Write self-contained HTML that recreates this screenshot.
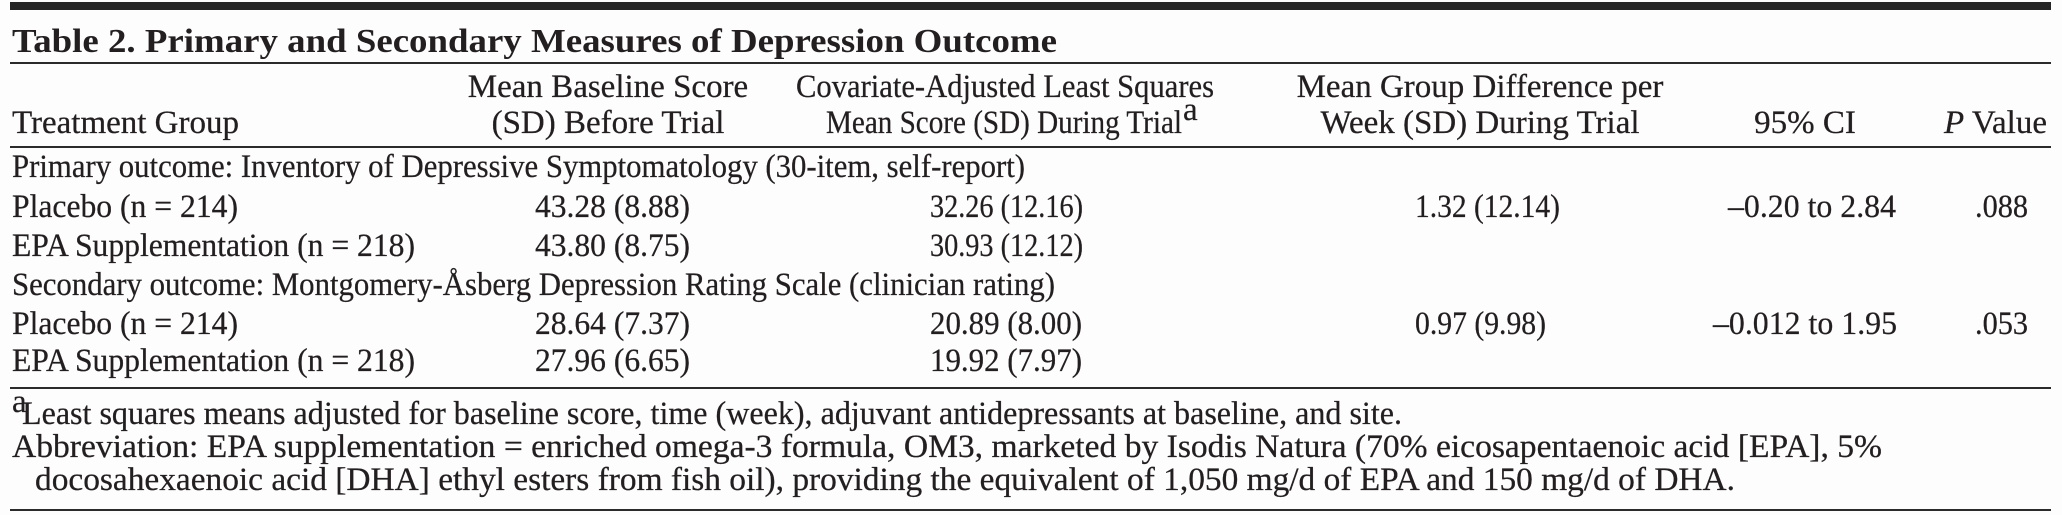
<!DOCTYPE html>
<html>
<head>
<meta charset="utf-8">
<style>
  html, body { margin: 0; padding: 0; background: #fdfdfd; }
  svg { display: block; }
  text { font-family: "Liberation Serif", "Times New Roman", serif; fill: #231f20; font-size: 33px; stroke: #231f20; stroke-width: 0.25; }
  .t { font-weight: bold; font-size: 34px; stroke-width: 0; }
  .fn { font-size: 32.5px; }
</style>
</head>
<body>
<svg width="2062" height="515" viewBox="0 0 2062 515" xmlns="http://www.w3.org/2000/svg">
  <rect x="0" y="0" width="2062" height="515" fill="#fdfdfd"/>

  <!-- top thick bar -->
  <rect x="10" y="2" width="2041" height="8" fill="#262626"/>

  <!-- title -->
  <text class="t" x="12" y="52" textLength="1045" lengthAdjust="spacingAndGlyphs">Table 2. Primary and Secondary Measures of Depression Outcome</text>
  <rect x="10" y="62" width="2041" height="2" fill="#2b2b2b"/>

  <!-- header -->
  <text x="12" y="133">Treatment Group</text>

  <text x="608" y="97" text-anchor="middle">Mean Baseline Score</text>
  <text x="608" y="133" text-anchor="middle">(SD) Before Trial</text>

  <text x="796" y="97" textLength="418" lengthAdjust="spacingAndGlyphs">Covariate-Adjusted Least Squares</text>
  <text x="826" y="133" textLength="356" lengthAdjust="spacingAndGlyphs">Mean Score (SD) During Trial</text>
  <text x="1183" y="120" font-size="17" stroke-width="0">a</text>

  <text x="1480" y="97" text-anchor="middle">Mean Group Difference per</text>
  <text x="1480" y="133" text-anchor="middle">Week (SD) During Trial</text>

  <text x="1805" y="133" text-anchor="middle">95% CI</text>

  <text x="2047" y="133" text-anchor="end"><tspan font-style="italic">P</tspan> Value</text>

  <rect x="10" y="146" width="2041" height="2" fill="#2b2b2b"/>

  <!-- primary outcome -->
  <text x="12" y="177" textLength="1013" lengthAdjust="spacingAndGlyphs">Primary outcome: Inventory of Depressive Symptomatology (30-item, self-report)</text>

  <text x="12" y="217" textLength="226" lengthAdjust="spacingAndGlyphs">Placebo (n = 214)</text>
  <text x="535" y="217" textLength="155" lengthAdjust="spacingAndGlyphs">43.28 (8.88)</text>
  <text x="930" y="217" textLength="153" lengthAdjust="spacingAndGlyphs">32.26 (12.16)</text>
  <text x="1415" y="217" textLength="145" lengthAdjust="spacingAndGlyphs">1.32 (12.14)</text>
  <text x="1728" y="217" textLength="168" lengthAdjust="spacingAndGlyphs">–0.20 to 2.84</text>
  <text x="1975" y="217" textLength="53" lengthAdjust="spacingAndGlyphs">.088</text>

  <text x="12" y="256" textLength="403" lengthAdjust="spacingAndGlyphs">EPA Supplementation (n = 218)</text>
  <text x="535" y="256" textLength="155" lengthAdjust="spacingAndGlyphs">43.80 (8.75)</text>
  <text x="930" y="256" textLength="153" lengthAdjust="spacingAndGlyphs">30.93 (12.12)</text>

  <!-- secondary outcome -->
  <text x="12" y="295" textLength="1043" lengthAdjust="spacingAndGlyphs">Secondary outcome: Montgomery-Åsberg Depression Rating Scale (clinician rating)</text>

  <text x="12" y="334" textLength="226" lengthAdjust="spacingAndGlyphs">Placebo (n = 214)</text>
  <text x="535" y="334" textLength="155" lengthAdjust="spacingAndGlyphs">28.64 (7.37)</text>
  <text x="930" y="334" textLength="152" lengthAdjust="spacingAndGlyphs">20.89 (8.00)</text>
  <text x="1415" y="334" textLength="131" lengthAdjust="spacingAndGlyphs">0.97 (9.98)</text>
  <text x="1713" y="334" textLength="184" lengthAdjust="spacingAndGlyphs">–0.012 to 1.95</text>
  <text x="1975" y="334" textLength="53" lengthAdjust="spacingAndGlyphs">.053</text>

  <text x="12" y="371" textLength="403" lengthAdjust="spacingAndGlyphs">EPA Supplementation (n = 218)</text>
  <text x="535" y="371" textLength="155" lengthAdjust="spacingAndGlyphs">27.96 (6.65)</text>
  <text x="930" y="371" textLength="152" lengthAdjust="spacingAndGlyphs">19.92 (7.97)</text>

  <rect x="10" y="387" width="2041" height="2" fill="#2b2b2b"/>

  <!-- footnotes -->
  <text x="12" y="412" font-size="18" stroke-width="0">a</text>
  <text class="fn" x="22" y="424" textLength="1380" lengthAdjust="spacingAndGlyphs">Least squares means adjusted for baseline score, time (week), adjuvant antidepressants at baseline, and site.</text>
  <text class="fn" x="12" y="457" textLength="1870" lengthAdjust="spacingAndGlyphs">Abbreviation: EPA supplementation = enriched omega-3 formula, OM3, marketed by Isodis Natura (70% eicosapentaenoic acid [EPA], 5%</text>
  <text class="fn" x="35" y="490" textLength="1700" lengthAdjust="spacingAndGlyphs">docosahexaenoic acid [DHA] ethyl esters from fish oil), providing the equivalent of 1,050 mg/d of EPA and 150 mg/d of DHA.</text>

  <rect x="10" y="509" width="2041" height="2" fill="#2b2b2b"/>
</svg>
</body>
</html>
